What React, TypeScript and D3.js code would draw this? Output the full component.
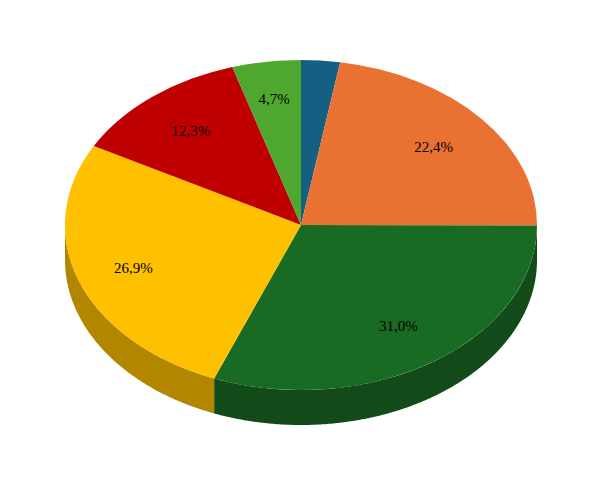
import React from "react";
import * as d3 from "d3";

const categories = ["A", "B", "C", "D", "E", "F"];
const shares = [2.65, 22.4, 30.95, 26.95, 12.35, 4.7];
const labels = ["", "22,4%", "31,0%", "26,9%", "12,3%", "4,7%"];
const colors = ["#156082", "#E97132", "#196B24", "#FFC000", "#C00000", "#4EA72E"];
// how far out each label sits, as a fraction of the pie radius
const labelRadii = [0.74, 0.735, 0.735, 0.755, 0.74, 0.775];

const width = 615;
const height = 478;
const cx = 301;
const cy = 225;
const rx = 236;
const ry = 165;
const depth = 35;

export default function App() {
  const slices = d3
    .pie<number>()
    .sort(null)
    .startAngle(0)
    .endAngle(2 * Math.PI)(shares);

  // unit circle, squashed into an ellipse by the group's transform
  const arc = d3.arc<d3.PieArcDatum<number>>().innerRadius(0).outerRadius(1);
  const labelArc = d3.arc<d3.PieArcDatum<number>>();

  // side wall, only for the part of a slice on the front half
  const wall = d3
    .area<number>()
    .x((a) => rx * Math.sin(a))
    .y0((a) => -ry * Math.cos(a))
    .y1((a) => -ry * Math.cos(a) + depth);

  const wallPath = (s: d3.PieArcDatum<number>) => {
    const a0 = Math.max(s.startAngle, Math.PI / 2);
    const a1 = Math.min(s.endAngle, (3 * Math.PI) / 2);
    if (a1 <= a0) return null;
    const steps = Math.max(2, Math.ceil((a1 - a0) * 200));
    return wall(d3.range(steps + 1).map((i) => a0 + ((a1 - a0) * i) / steps));
  };

  return (
    <svg
      width={width}
      height={height}
      style={{ position: "absolute", left: 0, top: 0, background: "#fff" }}
    >
      <g transform={`translate(${cx},${cy})`}>
        {slices.map((s, i) => {
          const d = wallPath(s);
          if (!d) return null;
          const c = d3.rgb(colors[i]);
          return (
            <path
              key={categories[i]}
              d={d}
              fill={d3.rgb(c.r * 0.7, c.g * 0.7, c.b * 0.7).formatHex()}
            />
          );
        })}
        <g transform={`scale(${rx},${ry})`}>
          {slices.map((s, i) => (
            <path key={categories[i]} d={arc(s) as string} fill={colors[i]} />
          ))}
        </g>
        {slices.map((s, i) => {
          const [x, y] = labelArc
            .innerRadius(labelRadii[i])
            .outerRadius(labelRadii[i])
            .centroid(s);
          return (
            <text
              key={categories[i]}
              x={x * rx}
              y={y * ry}
              dy="0.35em"
              textAnchor="middle"
              fontFamily="'Liberation Serif', serif"
              fontSize={15}
              fill="#000"
            >
              {labels[i]}
            </text>
          );
        })}
      </g>
    </svg>
  );
}
